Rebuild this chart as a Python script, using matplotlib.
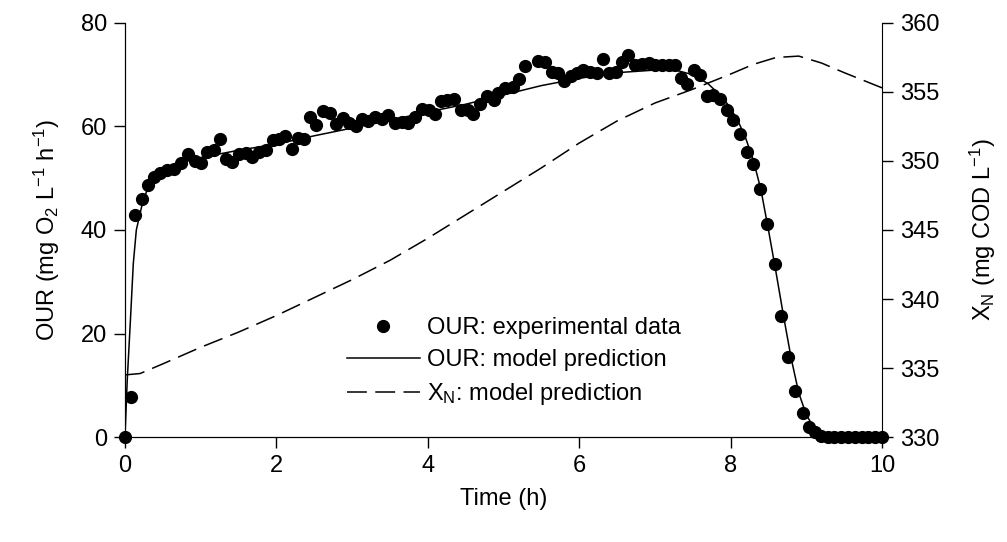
import matplotlib
matplotlib.use("Agg")
import matplotlib.pyplot as plt
import numpy as np

plt.rcParams['font.family'] = ['Liberation Sans', 'DejaVu Sans']
plt.rcParams['mathtext.fontset'] = 'custom'
plt.rcParams['mathtext.rm'] = 'Liberation Sans'
plt.rcParams['mathtext.it'] = 'Liberation Sans'
plt.rcParams['font.size'] = 17

# measured OUR (mg O2 L-1 h-1) vs time (h)
t_exp = [0.00, 0.08, 0.13, 0.22, 0.30, 0.39, 0.46, 0.56, 0.65, 0.74, 0.83, 0.92,
         1.00, 1.08, 1.17, 1.25, 1.33, 1.42, 1.51, 1.60, 1.68, 1.77, 1.86, 1.95,
         2.03, 2.11, 2.20, 2.28, 2.37, 2.44, 2.52, 2.61, 2.71, 2.79, 2.88, 2.96,
         3.05, 3.13, 3.21, 3.30, 3.39, 3.48, 3.57, 3.66, 3.74, 3.83, 3.92, 4.01,
         4.10, 4.18, 4.26, 4.35, 4.44, 4.53, 4.60, 4.69, 4.78, 4.87, 4.93, 5.02,
         5.12, 5.21, 5.28, 5.45, 5.55, 5.64, 5.72, 5.80, 5.89, 5.97, 6.05, 6.14,
         6.23, 6.32, 6.39, 6.48, 6.57, 6.65, 6.74, 6.83, 6.92, 7.00, 7.09, 7.18,
         7.26, 7.35, 7.42, 7.51, 7.60, 7.69, 7.77, 7.86, 7.95, 8.03, 8.13, 8.21,
         8.30, 8.39, 8.48, 8.58, 8.67, 8.76, 8.85, 8.95, 9.04, 9.11, 9.20, 9.28,
         9.37, 9.46, 9.55, 9.64, 9.73, 9.82, 9.91, 10.00]
our_exp = [0.0, 7.8, 42.9, 46.0, 48.7, 50.2, 51.0, 51.6, 51.8, 53.0, 54.6, 53.3,
           53.0, 55.1, 55.5, 57.6, 53.7, 53.2, 54.7, 54.9, 54.2, 55.0, 55.5, 57.4,
           57.5, 58.2, 55.6, 57.7, 57.6, 61.9, 60.2, 63.0, 62.7, 60.4, 61.6, 60.6,
           60.0, 61.4, 61.1, 61.9, 61.4, 62.2, 60.7, 60.8, 60.6, 61.9, 63.3, 63.2,
           62.4, 64.9, 65.1, 65.4, 63.2, 63.2, 62.5, 64.3, 65.9, 65.1, 66.4, 67.4,
           67.7, 69.1, 71.6, 72.6, 72.4, 70.6, 70.3, 68.7, 69.7, 70.4, 70.9, 70.6,
           70.4, 73.1, 70.3, 70.6, 72.5, 73.9, 71.9, 72.0, 72.2, 71.8, 71.9, 71.8,
           71.9, 69.3, 68.2, 70.9, 70.0, 65.8, 66.1, 65.4, 63.1, 61.3, 58.5, 55.1,
           52.8, 47.9, 41.1, 33.4, 23.3, 15.4, 8.9, 4.6, 2.0, 1.0, 0.2, 0.0,
           0.0, 0.0, 0.0, 0.0, 0.0, 0.0, 0.0, 0.0]

# model prediction of OUR
t_model = [0.00, 0.03, 0.07, 0.11, 0.15, 0.22, 0.29, 0.37, 0.50, 0.75, 1.00, 1.50,
           2.00, 2.50, 3.00, 3.50, 4.00, 4.50, 5.00, 5.50, 6.00, 6.50, 7.00, 7.30,
           7.50, 7.70, 7.90, 8.00, 8.10, 8.20, 8.30, 8.40, 8.50, 8.60, 8.70, 8.80,
           8.90, 9.00, 9.10, 9.20, 9.30, 10.00]
our_model = [0.0, 11.0, 22.0, 33.5, 40.0, 44.5, 47.7, 50.2, 51.8, 53.0, 54.0, 55.4,
             56.6, 58.2, 59.7, 61.2, 62.8, 64.3, 66.1, 67.9, 69.3, 70.4, 70.9, 70.8,
             70.0, 68.3, 65.5, 63.5, 61.0, 57.7, 53.5, 47.8, 40.0, 31.8, 23.3, 15.2,
             8.5, 4.3, 1.8, 0.5, 0.05, 0.0]

# model prediction of nitrifier biomass X_N (mg COD L-1)
t_xn = [0.0, 0.2, 0.5, 1.0, 1.5, 2.0, 2.5, 3.0, 3.5, 4.0, 4.5, 5.0, 5.5, 6.0,
        6.5, 7.0, 7.5, 8.0, 8.3, 8.6, 8.9, 9.2, 9.5, 10.0]
xn_model = [334.5, 334.6, 335.3, 336.5, 337.6, 338.8, 340.1, 341.4, 342.8, 344.4,
            346.1, 347.8, 349.5, 351.3, 352.9, 354.2, 355.2, 356.3, 357.0, 357.5,
            357.6, 357.1, 356.4, 355.3]

fig = plt.figure(figsize=(10.07, 5.42), dpi=100)
ax = fig.add_axes([0.1241, 0.1937, 0.7518, 0.7639])
ax2 = ax.twinx()

ax.plot(t_exp, our_exp, 'o', color='black', ms=8.5, clip_on=False, zorder=3,
        label='OUR: experimental data')
ax.plot(t_model, our_model, '-', color='black', lw=1.1,
        label='OUR: model prediction')
ax2.plot(t_xn, xn_model, color='black', lw=1.1, dashes=(13, 5.5),
         label=r'X$_\mathregular{N}$: model prediction')

ax.set_xlim(0, 10)
ax.set_ylim(0, 80)
ax2.set_ylim(330, 360)
ax.set_xticks([0, 2, 4, 6, 8, 10])
ax.set_yticks([0, 20, 40, 60, 80])
ax2.set_yticks([330, 335, 340, 345, 350, 355, 360])

for a in (ax, ax2):
    a.spines['top'].set_visible(False)
    a.tick_params(direction='out', length=8, width=1, pad=5)
ax.spines['right'].set_visible(False)

ax.set_xlabel('Time (h)', labelpad=8)
ax.set_ylabel(r'OUR (mg O$_\mathregular{2}$ L$^\mathregular{-1}$ h$^\mathregular{-1}$)',
              labelpad=13)
ax2.set_ylabel(r'X$_\mathregular{N}$ (mg COD L$^\mathregular{-1}$)', labelpad=20)

# one legend for both axes
handles = ax.get_legend_handles_labels()[0] + ax2.get_legend_handles_labels()[0]
labels = [h.get_label() for h in handles]
ax2.legend(handles, labels, loc='upper left', bbox_to_anchor=(0.293, 0.29),
           frameon=False, borderpad=0, borderaxespad=0, handlelength=3.1,
           handletextpad=0.3, labelspacing=0.42, numpoints=1)

fig.savefig('out.png', dpi=100)
